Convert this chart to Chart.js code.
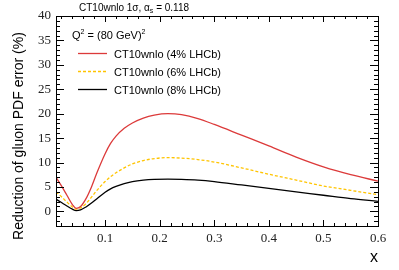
<!DOCTYPE html>
<html>
<head>
<meta charset="utf-8">
<script src="https://cdn.jsdelivr.net/npm/chart.js@4.4.0/dist/chart.umd.min.js"></script>
<style>
    html, body { margin: 0; padding: 0; background: #ffffff; }
    #wrap { width: 399px; height: 270px; position: relative; }
    .preload { position: absolute; left: -999px; top: 0; }
</style>
</head>
<body>
<span class="preload" style="font-family: 'Liberation Serif'">0.123</span>
<span class="preload" style="font-family: 'Liberation Sans'">CT10wnlo</span>
<div id="wrap"><canvas id="myChart" width="399" height="270"></canvas></div>
<script>
// x values (momentum fraction) shared by all curves
const xValues = [0.01, 0.02, 0.03, 0.04, 0.047, 0.055, 0.065, 0.075, 0.085, 0.1, 0.11, 0.12, 0.135, 0.15, 0.17, 0.19, 0.215, 0.24, 0.27, 0.3, 0.35, 0.4, 0.45, 0.5, 0.55, 0.6];
const lhcb4 = [7.0, 5.2, 3.3, 1.4, 0.6, 1.0, 2.6, 5.0, 7.9, 11.8, 13.9, 15.4, 17.0, 18.1, 19.1, 19.7, 20.0, 19.8, 19.0, 17.8, 15.6, 13.4, 11.1, 9.1, 7.5, 6.2];
const lhcb6 = [4.0, 3.0, 1.9, 0.9, 0.45, 0.7, 1.6, 2.9, 4.3, 6.1, 7.1, 7.9, 8.9, 9.7, 10.4, 10.8, 11.0, 10.9, 10.6, 10.1, 8.9, 7.6, 6.4, 5.2, 4.3, 3.4];
const lhcb8 = [2.5, 1.8, 1.1, 0.45, 0.15, 0.3, 0.9, 1.7, 2.6, 3.9, 4.6, 5.1, 5.7, 6.1, 6.4, 6.55, 6.6, 6.55, 6.4, 6.1, 5.4, 4.7, 4.0, 3.3, 2.6, 2.05];
const seriesNames = ['CT10wnlo (4% LHCb)', 'CT10wnlo (6% LHCb)', 'CT10wnlo (8% LHCb)'];
const xTickLabels = [0.1, 0.2, 0.3, 0.4, 0.5, 0.6];
const yTickLabels = [0, 5, 10, 15, 20, 25, 30, 35, 40];

function toPoints(ys) {
    return xValues.map((x, i) => ({x: x, y: ys[i]}));
}

const SANS = 'Liberation Sans, Arial, sans-serif';
const SERIF = 'Liberation Serif, DejaVu Serif, serif';

// ROOT-like frame with inward ticks on all four sides, plus the text annotations
const framePlugin = {
    id: 'frame',
    afterDraw(chart) {
        const ctx = chart.ctx;
        const a = chart.chartArea;
        const xs = chart.scales.x;
        const ys = chart.scales.y;
        ctx.save();
        ctx.strokeStyle = '#000';
        ctx.lineWidth = 1;
        ctx.strokeRect(Math.round(a.left) + 0.5, Math.round(a.top) + 0.5,
            Math.round(a.right - a.left), Math.round(a.bottom - a.top));

        ctx.beginPath();
        // x ticks every 0.02, major every 0.1
        for (let k = 1; k <= 30; k++) {
            const v = k * 0.02;
            const px = Math.round(xs.getPixelForValue(v)) + 0.5;
            const len = (k % 5 === 0) ? 6 : 3;
            ctx.moveTo(px, a.bottom);
            ctx.lineTo(px, a.bottom - len);
            ctx.moveTo(px, a.top);
            ctx.lineTo(px, a.top + len);
        }
        // y ticks every 1, major every 5
        for (let v = -2; v <= 39; v++) {
            const py = Math.round(ys.getPixelForValue(v)) + 0.5;
            const len = (v % 5 === 0) ? 8 : 4;
            ctx.moveTo(a.left, py);
            ctx.lineTo(a.left + len, py);
            ctx.moveTo(a.right, py);
            ctx.lineTo(a.right - len, py);
        }
        ctx.stroke();

        ctx.fillStyle = '#000';
        ctx.textBaseline = 'alphabetic';
        ctx.textAlign = 'left';

        // title: CT10wnlo 1σ, α_s = 0.118
        ctx.font = '10px ' + SANS;
        let tx = 79;
        let part = 'CT10wnlo 1\u03C3, \u03B1';
        ctx.fillText(part, tx, 11);
        tx += ctx.measureText(part).width;
        ctx.font = '7px ' + SANS;
        ctx.fillText('s', tx, 13);
        tx += ctx.measureText('s').width;
        ctx.font = '10px ' + SANS;
        ctx.fillText(' = 0.118', tx, 11);

        // Q^2 = (80 GeV)^2
        ctx.font = '11px ' + SANS;
        tx = 72;
        ctx.fillText('Q', tx, 39);
        tx += ctx.measureText('Q').width;
        ctx.font = '7px ' + SANS;
        ctx.fillText('2', tx, 34);
        tx += ctx.measureText('2').width;
        ctx.font = '11px ' + SANS;
        ctx.fillText(' = (80 GeV)', tx, 39);
        tx += ctx.measureText(' = (80 GeV)').width;
        ctx.font = '7px ' + SANS;
        ctx.fillText('2', tx, 34);

        // legend
        const rows = [53.5, 71.5, 89.5];
        chart.data.datasets.forEach((ds, i) => {
            ctx.save();
            ctx.strokeStyle = ds.borderColor;
            ctx.lineWidth = ds.borderWidth;
            ctx.setLineDash(ds.borderDash || []);
            ctx.beginPath();
            ctx.moveTo(78, rows[i]);
            ctx.lineTo(107, rows[i]);
            ctx.stroke();
            ctx.restore();
            ctx.font = '11px ' + SANS;
            ctx.fillText(ds.label, 114, rows[i] + 4);
        });

        // y axis title
        ctx.save();
        ctx.translate(23, 136);
        ctx.rotate(-Math.PI / 2);
        ctx.textAlign = 'center';
        ctx.font = '14px ' + SANS;
        ctx.fillText('Reduction of gluon PDF error (%)', 0, 0);
        ctx.restore();

        // x axis title
        ctx.textAlign = 'right';
        ctx.font = '16px ' + SANS;
        ctx.fillText('x', a.right, 262);
        ctx.restore();
    }
};

const ctx1 = document.getElementById('myChart').getContext('2d');
new Chart(ctx1, {
    type: 'line',
    data: {
        datasets: [{
            label: seriesNames[0],
            data: toPoints(lhcb4),
            borderColor: '#dc3a3a',
            borderWidth: 1.3
        }, {
            label: seriesNames[1],
            data: toPoints(lhcb6),
            borderColor: '#ffc400',
            borderWidth: 1.3,
            borderDash: [3, 2]
        }, {
            label: seriesNames[2],
            data: toPoints(lhcb8),
            borderColor: '#000000',
            borderWidth: 1.3
        }]
    },
    options: {
        responsive: false,
        animation: false,
        devicePixelRatio: 1,
        layout: { padding: { top: 16, right: 21, bottom: 0, left: 0 } },
        elements: {
            point: { radius: 0 },
            line: { cubicInterpolationMode: 'monotone', fill: false }
        },
        plugins: {
            legend: { display: false },
            tooltip: { enabled: false }
        },
        scales: {
            x: {
                type: 'linear',
                min: 0.01,
                max: 0.6,
                grid: { display: false, drawTicks: false },
                border: { display: false },
                afterBuildTicks: function (scale) {
                    scale.ticks = xTickLabels.map(v => ({value: v}));
                },
                afterFit: function (scale) { scale.height = 44; },
                ticks: {
                    padding: 5,
                    color: '#222',
                    maxRotation: 0,
                    font: { family: SERIF, size: 13 },
                    callback: function (value) { return value.toFixed(1); }
                }
            },
            y: {
                min: -3,
                max: 40,
                grid: { display: false, drawTicks: false },
                border: { display: false },
                afterBuildTicks: function (scale) {
                    scale.ticks = yTickLabels.map(v => ({value: v}));
                },
                afterFit: function (scale) { scale.width = 56; },
                ticks: {
                    padding: 5,
                    color: '#222',
                    font: { family: SERIF, size: 13 },
                    callback: function (value) { return String(value); }
                }
            }
        }
    },
    plugins: [framePlugin]
});
</script>
</body>
</html>
